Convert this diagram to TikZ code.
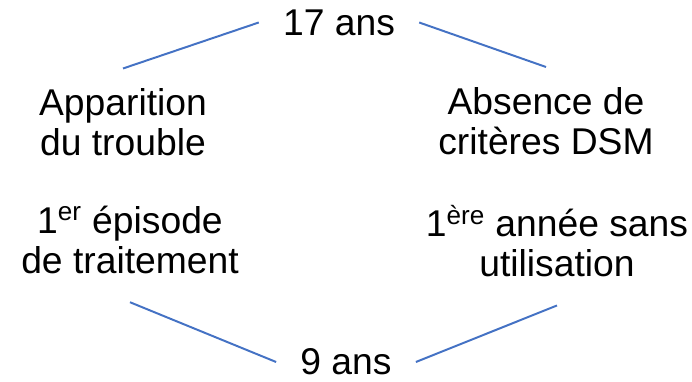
\documentclass[tikz,border=0pt]{standalone}
\usepackage{fontspec}
\setmainfont{Liberation Sans}
\usetikzlibrary{positioning}
\definecolor{LinkBlue}{RGB}{68,114,196}
\tikzset{
  link/.style={draw=LinkBlue,line width=1.4pt},
  agebox/.style={inner xsep=0.6cm,inner ysep=0pt,font=\fontsize{26.5}{28.5}\selectfont},
  stagebox/.style={align=center,inner xsep=0pt,inner ysep=0.5cm,
    font=\fontsize{26.5}{28.5}\selectfont}
}
\begin{document}
\begin{tikzpicture}[x=0.025cm,y=-0.025cm]
  \useasboundingbox (0,0) rectangle (692,382);
  \node[agebox] (age17) at (339,22.5) {17 ans};
  \node[agebox] (age9) at (346,362) {9 ans};
  \node[stagebox] (onset) at (123,122.5) {Apparition\\du trouble};
  \node[stagebox,inner ysep=0.7cm] (treat) at (130,240) {1\textsuperscript{er} épisode\\de traitement};
  \node[stagebox] (nocrit) at (546,121) {Absence de\\critères DSM};
  \node[stagebox,inner ysep=0.7cm] (nouse) at (557,241) {1\textsuperscript{ère} année sans\\utilisation};
  \draw[link] (onset.north) -- (age17.west);
  \draw[link] (age17.east) -- (nocrit.north);
  \draw[link] (treat.south) -- (age9.west);
  \draw[link] (age9.east) -- (nouse.south);
\end{tikzpicture}
\end{document}
